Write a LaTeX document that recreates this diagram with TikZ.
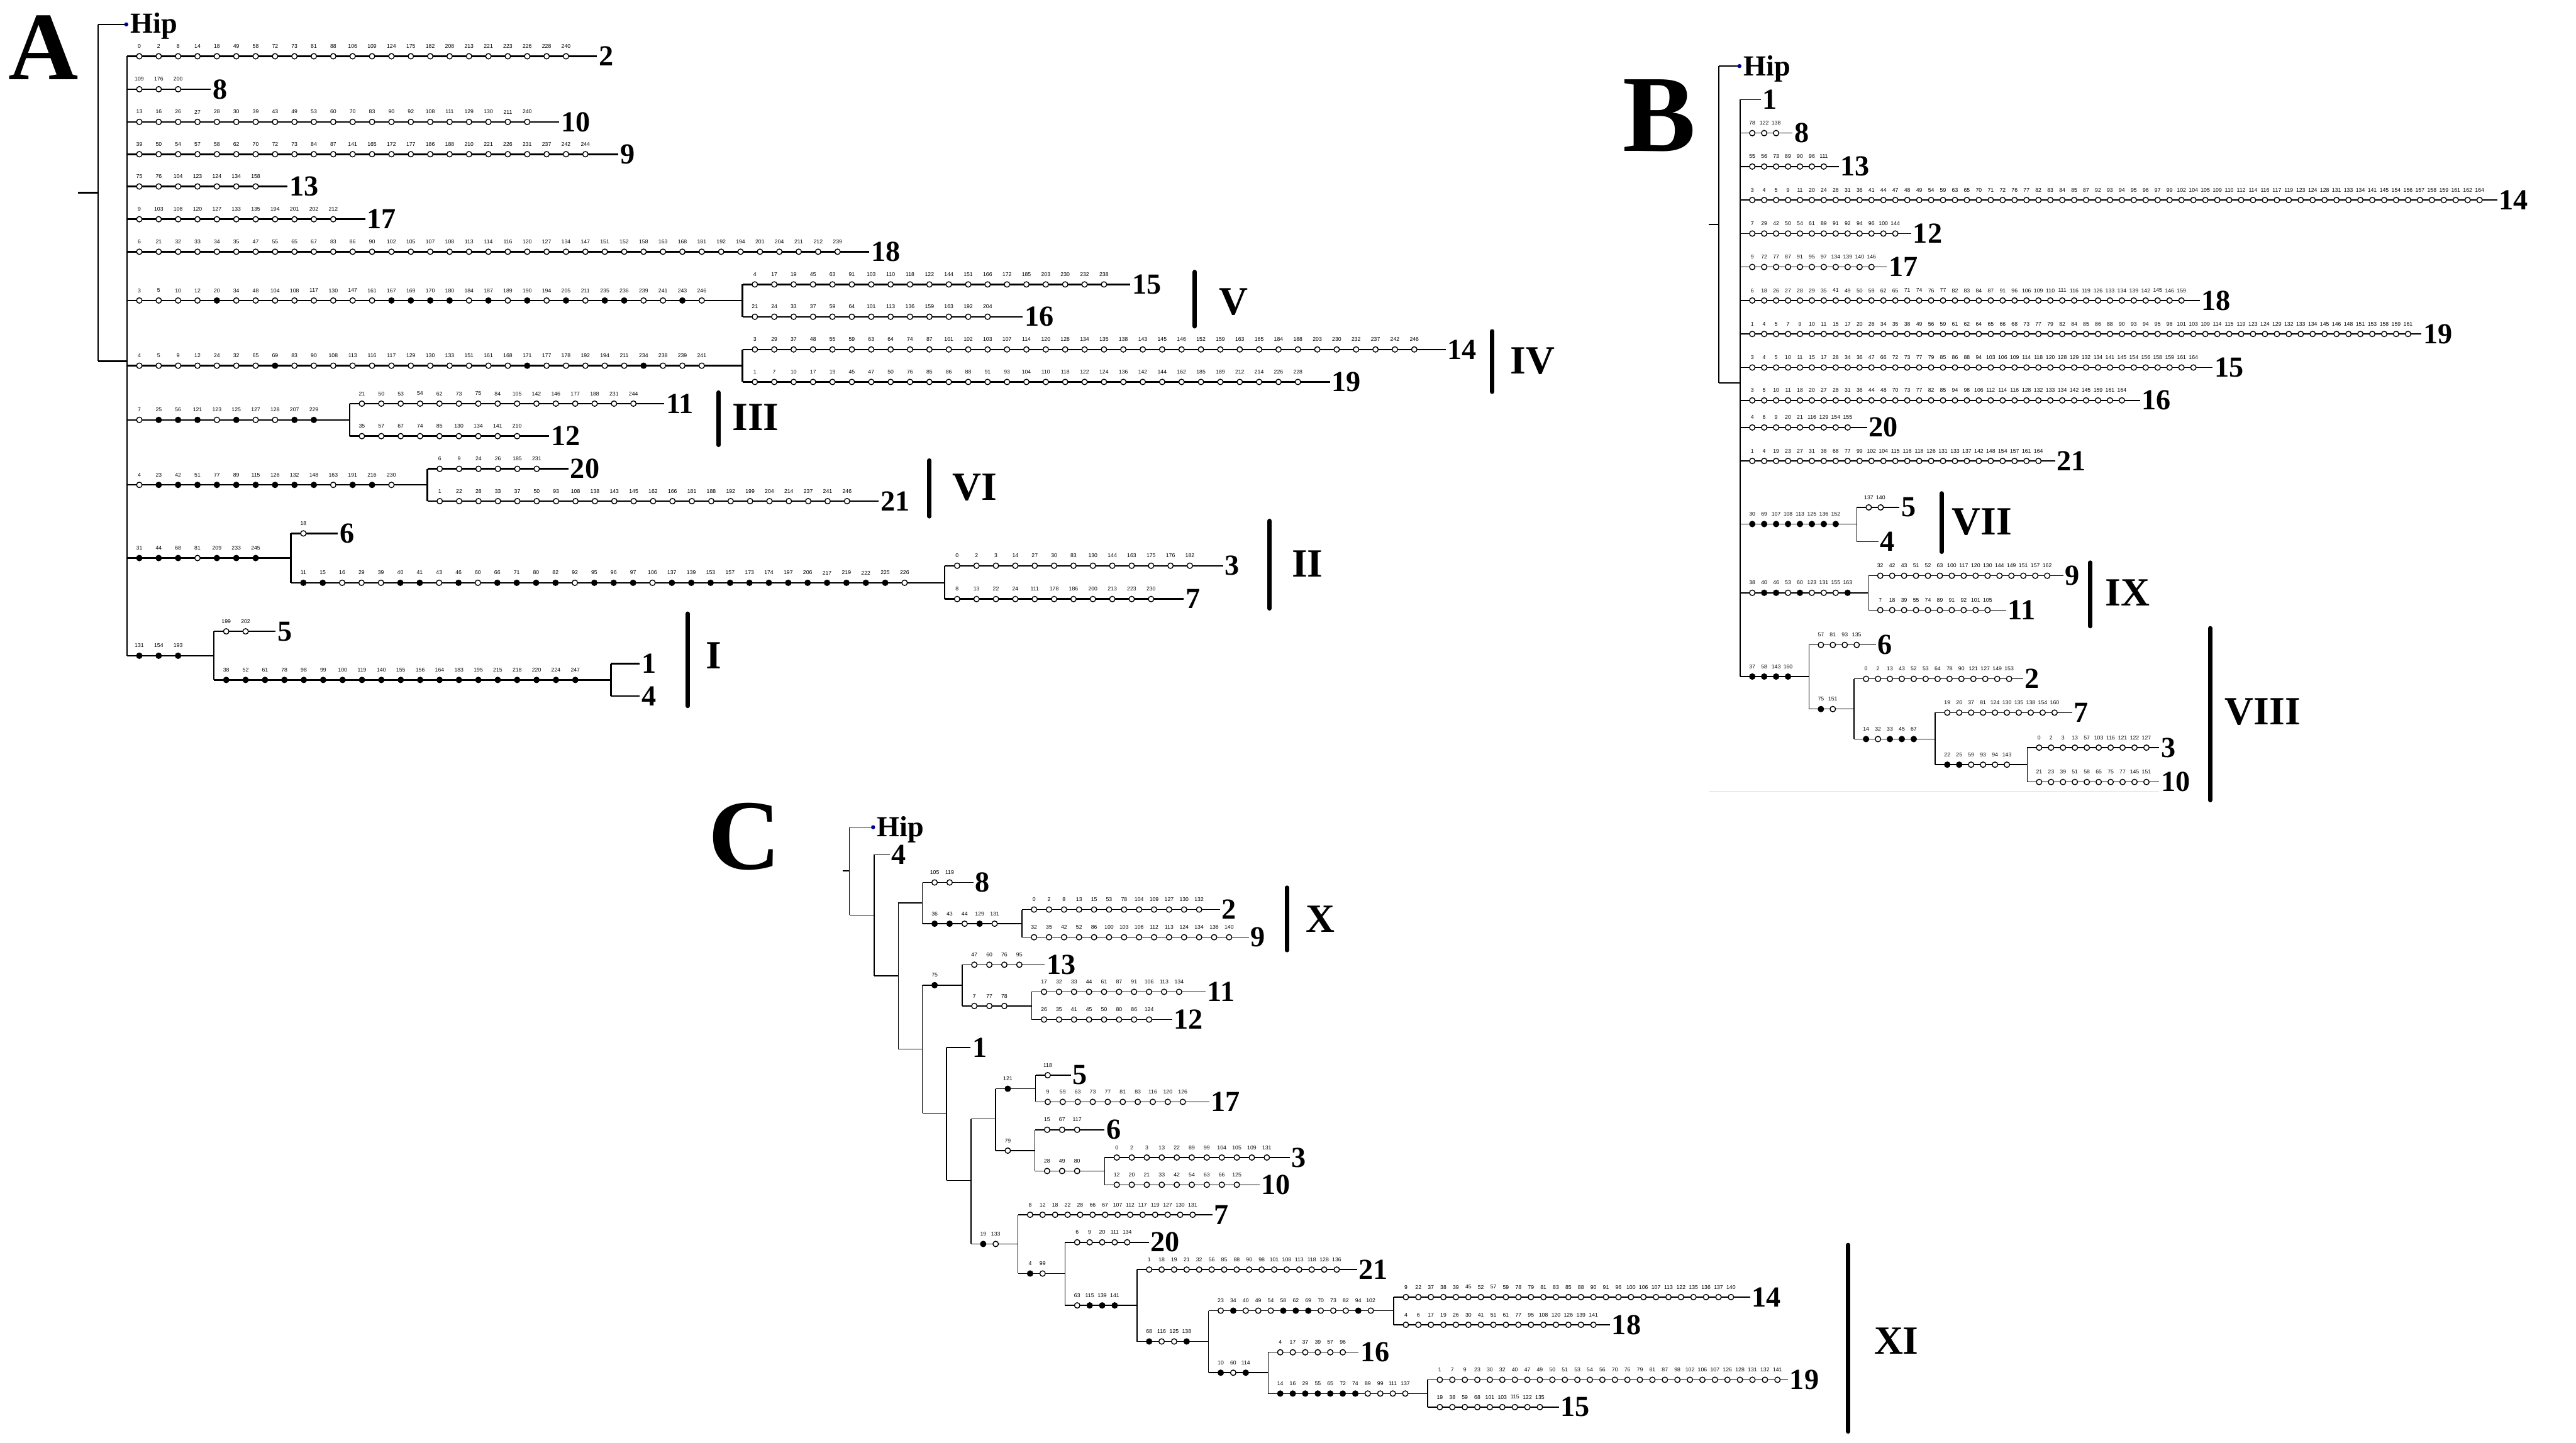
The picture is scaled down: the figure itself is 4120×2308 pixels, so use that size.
\documentclass[tikz,border=0pt]{standalone}
\usepackage{fontspec}
\setmainfont{Liberation Serif}
\newfontfamily\numfont{Liberation Sans}
\colorlet{o}{white}
\colorlet{x}{black}
\definecolor{hipblue}{RGB}{0,0,140}
\tikzset{
  br/.style={line width=0.5pt},
  cc/.style={circle, draw=black, inner sep=0pt, minimum size=1.75pt, line width=0.28pt},
  num/.style={inner sep=0pt, font=\numfont\fontsize{1.75}{2}\selectfont},
  lab/.style={inner sep=0pt, xshift=0.4pt, font=\bfseries\fontsize{9.3}{10}\selectfont},
  clade/.style={inner sep=0pt, font=\bfseries\fontsize{12.8}{14}\selectfont},
  bar/.style={line width=1.4pt, line cap=round},
  big/.style={inner sep=0pt, anchor=base, font=\bfseries\fontsize{31}{32}\selectfont},
}
\def\SP{31.02}\def\OFF{19.8}
\newcommand\cirm[3]{\foreach[count=\ii from 0] \nm/\cl in {#3} {%
  \node[cc,fill=\cl] at ({#1+\OFF+\ii*\SP},#2) {};
  \node[num] at ({#1+\OFF+\ii*\SP},{#2-16}) {\nm};}}
\newcommand\ciro[3]{\foreach[count=\ii from 0] \nm in {#3} {%
  \node[cc,fill=white] at ({#1+\OFF+\ii*\SP},#2) {};
  \node[num] at ({#1+\OFF+\ii*\SP},{#2-16}) {\nm};}}
\newcommand\lf[5]{\draw[br] (#1,#2) -- (#3,#2) node[lab,anchor=west] {#4}; \ciro{#1}{#2}{#5}}
\newcommand\ib[4]{\draw[br] (#1,#2) -- (#3,#2); \cirm{#1}{#2}{#4}}
\newcommand\ibo[4]{\draw[br] (#1,#2) -- (#3,#2); \ciro{#1}{#2}{#4}}
\begin{document}
\begin{tikzpicture}[x=0.2pt,y=-0.2pt]
\fill[white] (0,0) rectangle (4120,2308);
\useasboundingbox (0,0) rectangle (4120,2308);
% ================= A =================
\node[big] (labA) at (70,127) {A};
\draw[br] (125,308.3) -- (157,308.3);
\draw[br] (157,39) -- (157,577.7);
\draw[br] (157,39) -- (200,39);
\fill[hipblue] (202,39) circle (0.65pt);
\node[lab, anchor=base west] (hipA) at (206,53.3) {Hip};
\draw[br] (157,577.7) -- (203,577.7);
\draw[br] (203,90) -- (203,1049);
\lf{203}{90}{955}{2}{0,2,8,14,18,49,58,72,73,81,88,106,109,124,175,182,208,213,221,223,226,228,240}
\lf{203}{142.7}{337}{8}{109,176,200}
\lf{203}{195}{894}{10}{13,16,26,27,28,30,39,43,49,53,60,70,83,90,92,108,111,129,130,211,240}
\lf{203}{246.7}{989}{9}{39,50,54,57,58,62,70,72,73,84,87,141,165,172,177,186,188,210,221,226,231,237,242,244}
\lf{203}{298.3}{460}{13}{75,76,104,123,124,134,158}
\lf{203}{350.7}{584}{17}{9,103,108,120,127,133,135,194,201,202,212}
\lf{203}{402.7}{1390}{18}{6,21,32,33,34,35,47,55,65,67,83,86,90,102,105,107,108,113,114,116,120,127,134,147,151,152,158,163,168,181,192,194,201,204,211,212,239}
% V
\ib{203}{480.7}{1187.5}{3/o,5/o,10/o,12/o,20/x,34/o,48/o,104/o,108/o,117/o,130/o,147/o,161/o,167/x,169/x,170/x,180/x,184/o,187/x,189/o,190/x,194/o,205/x,211/o,235/x,236/x,239/o,241/o,243/x,246/o}
\draw[br] (1187.5,455) -- (1187.5,506.7);
\lf{1187.5}{455}{1808}{15}{4,17,19,45,63,91,103,110,118,122,144,151,166,172,185,203,230,232,238}
\lf{1187.5}{506.7}{1636}{16}{21,24,33,37,59,64,101,113,136,159,163,192,204}
% IV
\ib{203}{585}{1187.5}{4/o,5/o,9/o,12/o,24/o,32/o,65/o,69/x,83/o,90/o,108/o,113/o,116/o,117/o,129/o,130/o,133/o,151/o,161/o,168/o,171/x,177/o,178/o,192/o,194/o,211/o,234/x,238/o,239/o,241/o}
\draw[br] (1187.5,559) -- (1187.5,611);
\lf{1187.5}{559}{2312}{14}{3,29,37,48,55,59,63,64,74,87,101,102,103,107,114,120,128,134,135,138,143,145,146,152,159,163,165,184,188,203,230,232,237,242,246}
\lf{1187.5}{611}{2127}{19}{1,7,10,17,19,45,47,50,76,85,86,88,91,93,104,110,118,122,124,136,142,144,162,185,189,212,214,226,228}
% III
\ib{203}{671.7}{559}{7/o,25/x,56/x,121/x,123/o,125/x,127/o,128/o,207/x,229/x}
\draw[br] (559,645.7) -- (559,697.7);
\lf{559}{645.7}{1062}{11}{21,50,53,54,62,73,75,84,105,142,146,177,188,231,244}
\lf{559}{697.7}{878}{12}{35,57,67,74,85,130,134,141,210}
% VI
\ib{203}{775.7}{683.5}{4/o,23/x,42/x,51/x,77/x,89/x,115/x,126/x,132/x,148/x,163/o,191/x,216/x,230/o}
\draw[br] (683.5,750) -- (683.5,801.7);
\lf{683.5}{750}{909}{20}{6,9,24,26,185,231}
\lf{683.5}{801.7}{1405}{21}{1,22,28,33,37,50,93,108,138,143,145,162,166,181,188,192,199,204,214,237,241,246}
% II
\ib{203}{892.7}{465.4}{31/x,44/x,68/x,81/o,209/x,233/x,245/x}
\draw[br] (465.4,853.3) -- (465.4,932.3);
\lf{465.4}{853.3}{540}{6}{18}
\ib{465.4}{932.3}{1511}{11/x,15/x,16/o,29/o,39/o,40/x,41/x,43/o,46/x,60/o,66/x,71/x,80/x,82/x,92/o,95/x,96/x,97/x,106/o,137/x,139/x,153/x,157/x,173/x,174/x,197/x,206/x,217/x,219/x,222/x,225/x,226/o}
\draw[br] (1511,905) -- (1511,958.3);
\lf{1511}{905}{1956}{3}{0,2,3,14,27,30,83,130,144,163,175,176,182}
\lf{1511}{958.3}{1893}{7}{8,13,22,24,111,178,186,200,213,223,230}
% I
\ib{203}{1049}{342}{131/x,154/x,193/x}
\draw[br] (342,1010) -- (342,1087.7);
\lf{342}{1010}{441}{5}{199,202}
\ib{342}{1087.7}{977}{38/x,52/x,61/x,78/x,98/x,99/x,100/x,119/x,140/x,155/x,156/x,164/x,183/x,195/x,215/x,218/x,220/x,224/x,247/x}
\draw[br] (977,1061.7) -- (977,1113.3);
\draw[br] (977,1061.7) -- (1022.8,1061.7) node[lab,anchor=west] (A1) {1};
\draw[br] (977,1113.3) -- (1022.8,1113.3) node[lab,anchor=west] (A4) {4};
% clade bars A
\draw[bar] (1911,435) -- (1911,522);       \node[clade] (cV) at (1973,483) {V};
\draw[bar] (2386.6,530) -- (2386.6,626.7); \node[clade] (cIV) at (2451,578) {IV};
\draw[bar] (1149.2,628) -- (1149.2,711.7); \node[clade] (cIII) at (1208.5,668) {III};
\draw[bar] (1486.6,736.7) -- (1486.6,826); \node[clade] (cVI) at (1558.6,780) {VI};
\draw[bar] (2030.6,833.3) -- (2030.6,973.3); \node[clade] (cII) at (2091,901.7) {II};
\draw[bar] (1100,981.7) -- (1100,1129.3);  \node[clade] (cI) at (1142,1049) {I};
% ================= B =================
\begin{scope}[br/.style={line width=0.3pt}]
\node[big, font=\bfseries\fontsize{35}{36}\selectfont] (labB) at (2654,242) {B};
\def\SP{19.07}\def\OFF{19.2}
\draw[br] (2733,359) -- (2749,359);
\draw[br] (2749,105.7) -- (2749,612.4);
\draw[br] (2749,105.7) -- (2780,105.7);
\fill[hipblue] (2782,105.7) circle (0.65pt);
\node[lab, anchor=base west] (hipB) at (2786,121) {Hip};
\draw[br] (2749,612.4) -- (2783.3,612.4);
\draw[br] (2783.3,159.3) -- (2783.3,1082.3);
\draw[br] (2783.3,159.3) -- (2815.9,159.3) node[lab,anchor=west] (B1) {1};
\lf{2783.3}{212.9}{2867}{8}{78,122,138}
\lf{2783.3}{266.4}{2941}{13}{55,56,73,89,90,96,111}
\lf{2783.3}{320}{3994}{14}{3,4,5,9,11,20,24,26,31,36,41,44,47,48,49,54,59,63,65,70,71,72,76,77,82,83,84,85,87,92,93,94,95,96,97,99,102,104,105,109,110,112,114,116,117,119,123,124,128,131,133,134,141,145,154,156,157,158,159,161,162,164}
\lf{2783.3}{373.6}{3057}{12}{7,29,42,50,54,61,89,91,92,94,96,100,144}
\lf{2783.3}{427.1}{3018}{17}{9,72,77,87,91,95,97,134,139,140,146}
\lf{2783.3}{480.7}{3518}{18}{6,18,26,27,28,29,35,41,49,50,59,62,65,71,74,76,77,82,83,84,87,91,96,106,109,110,111,116,119,126,133,134,139,142,145,146,159}
\lf{2783.3}{534.3}{3873}{19}{1,4,5,7,9,10,11,15,17,20,26,34,35,38,49,56,59,61,62,64,65,66,68,73,77,79,82,84,85,86,88,90,93,94,95,98,101,103,109,114,115,119,123,124,129,132,133,134,145,146,148,151,153,158,159,161}
\lf{2783.3}{587.9}{3539}{15}{3,4,5,10,11,15,17,28,34,36,47,66,72,73,77,79,85,86,88,94,103,106,109,114,118,120,128,129,132,134,141,145,154,156,158,159,161,164}
\lf{2783.3}{640.5}{3423}{16}{3,5,10,11,18,20,27,28,31,36,44,48,70,73,77,82,85,94,98,106,112,114,116,128,132,133,134,142,145,159,161,164}
\lf{2783.3}{683.8}{2986}{20}{4,6,9,20,21,116,129,154,155}
\lf{2783.3}{737.4}{3287}{21}{1,4,19,23,27,31,38,68,77,99,102,104,115,116,118,126,131,133,137,142,148,154,157,161,164}
% VII
\ib{2783.3}{838.3}{2969.6}{30/x,69/x,107/x,108/x,113/x,125/x,136/x,152/x}
\draw[br] (2969.6,811.7) -- (2969.6,866.7);
\lf{2969.6}{811.7}{3038}{5}{137,140}
\draw[br] (2969.6,866.7) -- (3004.5,866.7) node[lab,anchor=west] (B4) {4};
% IX
\ib{2783.3}{948.3}{2988}{38/o,40/x,46/x,53/o,60/x,123/o,131/o,155/o,163/x}
\draw[br] (2988,921) -- (2988,976);
\lf{2988}{921}{3300}{9}{32,42,43,51,52,63,100,117,120,130,144,149,151,157,162}
\lf{2988}{976}{3208.5}{11}{7,18,39,55,74,89,91,92,101,105}
% VIII
\ib{2783.3}{1082.3}{2893.1}{37/x,58/x,143/x,160/x}
\draw[br] (2893.1,1031.7) -- (2893.1,1134.3);
\lf{2893.1}{1031.7}{3000.3}{6}{57,81,93,135}
\ib{2893.1}{1134.3}{2965.3}{75/x,151/o}
\draw[br] (2965.3,1086) -- (2965.3,1182.3);
\lf{2965.3}{1086}{3236}{2}{0,2,13,43,52,53,64,78,90,121,127,149,153}
\ib{2965.3}{1182.3}{3095.2}{14/x,32/o,33/x,45/x,67/x}
\draw[br] (3095.2,1140) -- (3095.2,1223.3);
\lf{3095.2}{1140}{3313.8}{7}{19,20,37,81,124,130,135,138,154,160}
\ib{3095.2}{1223.3}{3242.1}{22/x,25/x,59/o,93/o,94/o,143/o}
\draw[br] (3242.1,1196) -- (3242.1,1251);
\lf{3242.1}{1196}{3453.4}{3}{0,2,3,13,57,103,116,121,122,127}
\lf{3242.1}{1251}{3453.4}{10}{21,23,39,51,58,65,75,77,145,151}
\draw[bar] (3105.6,789.3) -- (3105.6,882.7); \node[clade] (cVII) at (3170,835) {VII};
\draw[bar] (3343.2,900) -- (3343.2,1001.7); \node[clade] (cIX) at (3403,948.3) {IX};
\draw[bar] (3534.9,1005) -- (3534.9,1280);  \node[clade] (cVIII) at (3619,1138.3) {VIII};
\draw[gray!25, line width=0.3pt] (2733,1266) -- (3453,1266);
\end{scope}
% ================= C =================
\begin{scope}[br/.style={line width=0.3pt}]
\node[big, font=\bfseries\fontsize{32}{33}\selectfont] (labC) at (1191,1391) {C};
\draw[br] (1348,1393.3) -- (1358.5,1393.3);
\draw[br] (1358.5,1323.3) -- (1358.5,1464);
\draw[br] (1358.5,1323.3) -- (1394,1323.3);
\fill[hipblue] (1396.4,1323.3) circle (0.65pt);
\node[lab, anchor=base west] (hipC) at (1400,1338.3) {Hip};
\draw[br] (1358.5,1464) -- (1398.2,1464);
\draw[br] (1398.2,1367.3) -- (1398.2,1561);
\draw[br] (1398.2,1367.3) -- (1423.1,1367.3) node[lab,anchor=west] (C4) {4};
\draw[br] (1398.2,1561) -- (1436.8,1561);
\draw[br] (1436.8,1444.3) -- (1436.8,1678.3);
\draw[br] (1436.8,1444.3) -- (1475.3,1444.3);
\draw[br] (1475.3,1411.7) -- (1475.3,1477.7);
\def\SP{24}\def\OFF{19.5}
\lf{1475.3}{1411.7}{1557.2}{8}{105,119}
\ib{1475.3}{1477.7}{1634.3}{36/x,43/x,44/o,129/x,131/o}
\draw[br] (1634.3,1455) -- (1634.3,1499.3);
\lf{1634.3}{1455}{1951.6}{2}{0,2,8,13,15,53,78,104,109,127,130,132}
\lf{1634.3}{1499.3}{1997.2}{9}{32,35,42,52,86,100,103,106,112,113,124,134,136,140}
\draw[bar] (2058.3,1420) -- (2058.3,1520); \node[clade] (cX) at (2111.5,1470) {X};
\draw[br] (1436.8,1678.3) -- (1475.3,1678.3);
\draw[br] (1475.3,1576) -- (1475.3,1780.7);
\ib{1475.3}{1576}{1538.8}{75/x}
\draw[br] (1538.8,1543.3) -- (1538.8,1609.3);
\lf{1538.8}{1543.3}{1671}{13}{47,60,76,95}
\ibo{1538.8}{1609.3}{1650.3}{7,77,78}
\draw[br] (1650.3,1586.7) -- (1650.3,1631);
\lf{1650.3}{1586.7}{1927.9}{11}{17,32,33,44,61,87,91,106,113,134}
\lf{1650.3}{1631}{1874.5}{12}{26,35,41,45,50,80,86,124}
\draw[br] (1475.3,1780.7) -- (1513.9,1780.7);
\draw[br] (1513.9,1675.7) -- (1513.9,1888.3);
\draw[br] (1513.9,1675.7) -- (1552.4,1675.7) node[lab,anchor=west] (C1) {1};
\draw[br] (1513.9,1888.3) -- (1553,1888.3);
\draw[br] (1553,1790) -- (1553,1990);
\draw[br] (1553,1790) -- (1592.3,1790);
\draw[br] (1592.3,1741.7) -- (1592.3,1840.7);
\ib{1592.3}{1741.7}{1656.2}{121/x}
\draw[br] (1656.2,1720) -- (1656.2,1762.7);
\lf{1656.2}{1720}{1712.6}{5}{118}
\lf{1656.2}{1762.7}{1933.8}{17}{9,59,63,73,77,81,83,116,120,126}
\ibo{1592.3}{1840.7}{1655.2}{79}
\draw[br] (1655.2,1807.3) -- (1655.2,1873.3);
\lf{1655.2}{1807.3}{1766.6}{6}{15,67,117}
\ibo{1655.2}{1873.3}{1766.6}{28,49,80}
\draw[br] (1766.6,1851.7) -- (1766.6,1895.3);
\lf{1766.6}{1851.7}{2063.1}{3}{0,2,3,13,22,89,99,104,105,109,131}
\lf{1766.6}{1895.3}{2014.5}{10}{12,20,21,33,42,54,63,66,125}
\def\SP{20}
\ib{1553}{1990}{1628}{19/x,133/o}
\draw[br] (1628,1943.3) -- (1628,2037.3);
\lf{1628}{1943.3}{1939.2}{7}{8,12,18,22,28,66,67,107,112,117,119,127,130,131}
\ib{1628}{2037.3}{1703.3}{4/x,99/o}
\draw[br] (1703.3,1987.3) -- (1703.3,2088.3);
\lf{1703.3}{1987.3}{1837.2}{20}{6,9,20,111,134}
\ib{1703.3}{2088.3}{1818.4}{63/o,115/x,139/x,141/x}
\draw[br] (1818.4,2031) -- (1818.4,2146);
\lf{1818.4}{2031}{2170.4}{21}{1,18,19,21,32,56,85,88,90,98,101,108,113,118,128,136}
\ib{1818.4}{2146}{1932.9}{68/x,116/o,125/o,138/x}
\draw[br] (1932.9,2096.7) -- (1932.9,2196);
\ib{1932.9}{2096.7}{2229}{23/o,34/x,40/o,49/o,54/o,58/x,62/x,69/x,70/o,73/o,82/o,94/x,102/o}
\draw[br] (2229,2075) -- (2229,2119.3);
\lf{2229}{2075}{2799.2}{14}{9,22,37,38,39,45,52,57,59,78,79,81,83,85,88,90,91,96,100,106,107,113,122,135,136,137,140}
\lf{2229}{2119.3}{2575.2}{18}{4,6,17,19,26,30,41,51,61,77,95,108,120,126,139,141}
\ib{1932.9}{2196}{2028.1}{10/x,60/o,114/x}
\draw[br] (2028.1,2163.3) -- (2028.1,2229.3);
\lf{2028.1}{2163.3}{2173}{16}{4,17,37,39,57,96}
\ib{2028.1}{2229.3}{2283.3}{14/x,16/x,29/x,55/x,65/x,72/x,74/x,89/o,99/o,111/o,137/o}
\draw[br] (2283.3,2207.3) -- (2283.3,2251);
\lf{2283.3}{2207.3}{2859.8}{19}{1,7,9,23,30,32,40,47,49,50,51,53,54,56,70,76,79,81,87,98,102,106,107,126,128,131,132,141}
\lf{2283.3}{2251}{2493.4}{15}{19,38,59,68,101,103,115,122,135}
\draw[bar] (2956,1991.7) -- (2956,2290); \node[clade] (cXI) at (3033,2145) {XI};
\end{scope}
\end{tikzpicture}
\end{document}
